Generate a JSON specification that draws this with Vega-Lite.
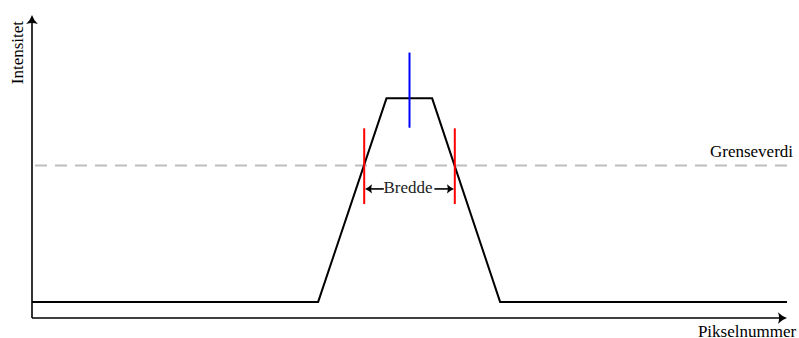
{
  "$schema": "https://vega.github.io/schema/vega-lite/v6.json",
  "width": 755,
  "height": 303,
  "padding": {"left": 32, "top": 15, "right": 12, "bottom": 20},
  "autosize": {"type": "none"},
  "config": {"view": {"stroke": null}, "font": "Liberation Serif"},
  "datasets": {
    "profile": [
      {"pixel": 0, "intensity": 5.3},
      {"pixel": 37.9, "intensity": 5.3},
      {"pixel": 46.95, "intensity": 72.5},
      {"pixel": 53.0, "intensity": 72.5},
      {"pixel": 62.0, "intensity": 5.3},
      {"pixel": 100, "intensity": 5.3}
    ],
    "axeslines": [
      {"x": 0, "y": 0, "x2": 99, "y2": 0},
      {"x": 0, "y": 0, "x2": 0, "y2": 99}
    ],
    "heads": [
      {"x": 100, "y": 0, "dir": "right", "kind": "axis"},
      {"x": 0, "y": 100, "dir": "up", "kind": "axis"},
      {"x": 44.1, "y": 42.6, "dir": "left", "kind": "width"},
      {"x": 55.9, "y": 42.6, "dir": "right", "kind": "width"}
    ],
    "edges": [
      {"side": "venstre", "x": 44, "y": 37.6, "y2": 62.6},
      {"side": "høyre", "x": 56, "y": 37.6, "y2": 62.6}
    ],
    "centre": [
      {"x": 50, "y": 62.8, "y2": 87.6}
    ],
    "threshold": [
      {"level": 50.3}
    ],
    "widthbar": [
      {"x": 44.5, "x2": 46.6, "y": 42.6},
      {"x": 53.3, "x2": 55.5, "y": 42.6}
    ],
    "labels": [
      {"text": "Intensitet", "x": -1.15, "y": 87.6, "role": "ytitle"},
      {"text": "Pikselnummer", "x": 88.2, "y": -6.27, "role": "xtitle"},
      {"text": "Grenseverdi", "x": 100.8, "y": 53.0, "role": "threshold"},
      {"text": "Bredde", "x": 49.8, "y": 41.2, "role": "width"}
    ]
  },
  "layer": [
    {
      "data": {"name": "threshold"},
      "mark": {"type": "rule", "color": "#bdbdbd", "strokeWidth": 2, "strokeDash": [12, 8]},
      "encoding": {
        "y": {"field": "level", "type": "quantitative", "scale": {"domain": [0, 100], "nice": false, "zero": false}, "axis": null}
      }
    },
    {
      "data": {"name": "axeslines"},
      "mark": {"type": "rule", "color": "black", "strokeWidth": 1.6},
      "encoding": {
        "x": {"field": "x", "type": "quantitative", "scale": {"domain": [0, 100], "nice": false, "zero": false}, "axis": null},
        "x2": {"field": "x2"},
        "y": {"field": "y", "type": "quantitative", "scale": {"domain": [0, 100], "nice": false, "zero": false}, "axis": null},
        "y2": {"field": "y2"}
      }
    },
    {
      "data": {"name": "profile"},
      "mark": {"type": "line", "color": "black", "strokeWidth": 2, "strokeJoin": "miter"},
      "encoding": {
        "x": {"field": "pixel", "type": "quantitative", "scale": {"domain": [0, 100], "nice": false, "zero": false}, "axis": null},
        "y": {"field": "intensity", "type": "quantitative", "scale": {"domain": [0, 100], "nice": false, "zero": false}, "axis": null}
      }
    },
    {
      "data": {"name": "edges"},
      "mark": {"type": "rule", "color": "#ff0000", "strokeWidth": 2},
      "encoding": {
        "x": {"field": "x", "type": "quantitative", "scale": {"domain": [0, 100], "nice": false, "zero": false}, "axis": null},
        "y": {"field": "y", "type": "quantitative", "scale": {"domain": [0, 100], "nice": false, "zero": false}, "axis": null},
        "y2": {"field": "y2"}
      }
    },
    {
      "data": {"name": "centre"},
      "mark": {"type": "rule", "color": "#0000ff", "strokeWidth": 2},
      "encoding": {
        "x": {"field": "x", "type": "quantitative", "scale": {"domain": [0, 100], "nice": false, "zero": false}, "axis": null},
        "y": {"field": "y", "type": "quantitative", "scale": {"domain": [0, 100], "nice": false, "zero": false}, "axis": null},
        "y2": {"field": "y2"}
      }
    },
    {
      "data": {"name": "widthbar"},
      "mark": {"type": "rule", "color": "black", "strokeWidth": 1.6},
      "encoding": {
        "x": {"field": "x", "type": "quantitative", "scale": {"domain": [0, 100], "nice": false, "zero": false}, "axis": null},
        "x2": {"field": "x2"},
        "y": {"field": "y", "type": "quantitative", "scale": {"domain": [0, 100], "nice": false, "zero": false}, "axis": null}
      }
    },
    {
      "data": {"name": "heads"},
      "mark": {"type": "point", "filled": true, "color": "black", "opacity": 1, "strokeWidth": 0},
      "encoding": {
        "x": {"field": "x", "type": "quantitative", "scale": {"domain": [0, 100], "nice": false, "zero": false}, "axis": null},
        "y": {"field": "y", "type": "quantitative", "scale": {"domain": [0, 100], "nice": false, "zero": false}, "axis": null},
        "shape": {
          "field": "dir", "type": "nominal", "legend": null,
          "scale": {
            "domain": ["left", "right", "up"],
            "range": [
              "M0,0 Q0.5,-0.15 1,-0.65 Q0.75,0 1,0.65 Q0.5,0.15 0,0 Z",
              "M0,0 Q-0.5,-0.15 -1,-0.65 Q-0.75,0 -1,0.65 Q-0.5,0.15 0,0 Z",
              "M0,0 Q-0.15,0.5 -0.65,1 Q0,0.75 0.65,1 Q0.15,0.5 0,0 Z"
            ]
          }
        },
        "size": {
          "field": "kind", "type": "nominal", "legend": null,
          "scale": {"domain": ["axis", "width"], "range": [324, 196]}
        }
      }
    },
    {
      "data": {"name": "labels"},
      "transform": [{"filter": "datum.role === 'ytitle'"}],
      "mark": {"type": "text", "fontSize": 17, "angle": 270, "align": "center", "baseline": "alphabetic", "color": "black"},
      "encoding": {
        "x": {"field": "x", "type": "quantitative", "scale": {"domain": [0, 100], "nice": false, "zero": false}, "axis": null},
        "y": {"field": "y", "type": "quantitative", "scale": {"domain": [0, 100], "nice": false, "zero": false}, "axis": null},
        "text": {"field": "text"}
      }
    },
    {
      "data": {"name": "labels"},
      "transform": [{"filter": "datum.role === 'xtitle'"}],
      "mark": {"type": "text", "fontSize": 17, "align": "left", "baseline": "alphabetic", "color": "black"},
      "encoding": {
        "x": {"field": "x", "type": "quantitative", "scale": {"domain": [0, 100], "nice": false, "zero": false}, "axis": null},
        "y": {"field": "y", "type": "quantitative", "scale": {"domain": [0, 100], "nice": false, "zero": false}, "axis": null},
        "text": {"field": "text"}
      }
    },
    {
      "data": {"name": "labels"},
      "transform": [{"filter": "datum.role === 'threshold'"}],
      "mark": {"type": "text", "fontSize": 17, "align": "right", "baseline": "alphabetic", "color": "black"},
      "encoding": {
        "x": {"field": "x", "type": "quantitative", "scale": {"domain": [0, 100], "nice": false, "zero": false}, "axis": null},
        "y": {"field": "y", "type": "quantitative", "scale": {"domain": [0, 100], "nice": false, "zero": false}, "axis": null},
        "text": {"field": "text"}
      }
    },
    {
      "data": {"name": "labels"},
      "transform": [{"filter": "datum.role === 'width'"}],
      "mark": {"type": "text", "fontSize": 17, "align": "center", "baseline": "alphabetic", "color": "#222222"},
      "encoding": {
        "x": {"field": "x", "type": "quantitative", "scale": {"domain": [0, 100], "nice": false, "zero": false}, "axis": null},
        "y": {"field": "y", "type": "quantitative", "scale": {"domain": [0, 100], "nice": false, "zero": false}, "axis": null},
        "text": {"field": "text"}
      }
    }
  ]
}
